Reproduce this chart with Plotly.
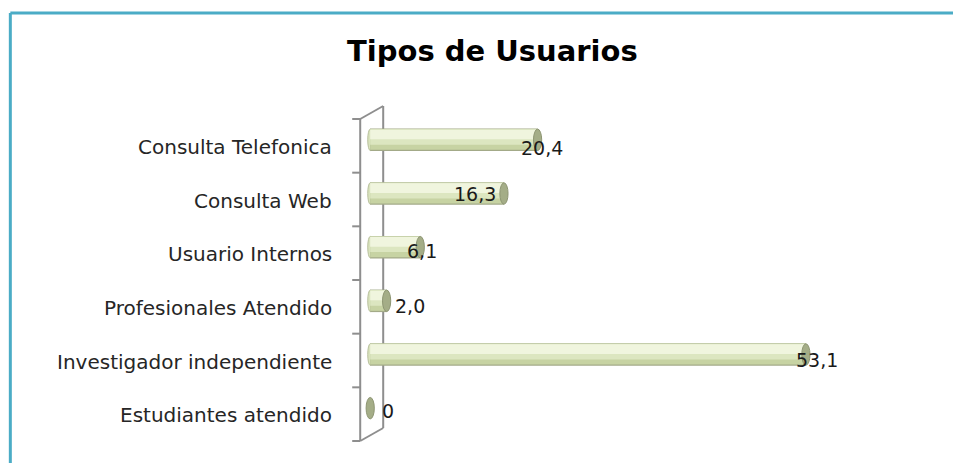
import plotly.graph_objects as go

# ---- data ----
categories = ["Consulta Telefonica", "Consulta Web", "Usuario Internos",
              "Profesionales Atendido", "Investigador independiente", "Estudiantes atendido"]
values = [20.4, 16.3, 6.1, 2.0, 53.1, 0]
value_labels = ["20,4", "16,3", "6,1", "2,0", "53,1", "0"]
title_text = "Tipos de Usuarios"

# ---- layout geometry (pixels, as measured on the target screenshot) ----
W, H = 961, 463
OFF = 8  # page body margin of the browser
ZERO_X, PLOT_R, PLOT_T, PLOT_B = 370, 938, 113, 435
XMIN, XMAX = -1.0, 69.2
SCALE = (PLOT_R - ZERO_X) / XMAX
PLOT_L = ZERO_X + XMIN * SCALE
ML = PLOT_L - OFF
MT = PLOT_T - OFF
MR = W - (PLOT_R - OFF)
MB = H - (PLOT_B - OFF)
PW, PH = W - ML - MR, H - MT - MB

def px(xp):
    return (xp - OFF - ML) / PW

def py(yp):
    return (H - MB - (yp - OFF)) / PH

fig = go.Figure()

# cylinder-like bars made of overlaid layers
layers = [
    dict(width=0.42, offset=-0.21, color="#A3AA88"),
    dict(width=0.385, offset=-0.198, color="#C7D3A3"),
    dict(width=0.29, offset=-0.198, color="#DCE6C0"),
    dict(width=0.18, offset=-0.19, color="#F0F5DE"),
]
for L in layers:
    fig.add_trace(go.Bar(
        y=categories, x=values, orientation="h",
        width=L["width"], offset=L["offset"],
        marker=dict(color=L["color"], line=dict(width=0)),
        hoverinfo="skip", showlegend=False,
    ))

shapes = []
# 3D back wall (decoration)
wall = dict(type="line", xref="paper", yref="paper", layer="below",
            line=dict(color="#8E8E8E", width=2))
shapes.append(dict(wall, x0=px(360), x1=px(360), y0=py(119), y1=py(441)))
shapes.append(dict(wall, x0=px(383), x1=px(383), y0=py(106), y1=py(428)))
shapes.append(dict(wall, x0=px(360), x1=px(383), y0=py(119), y1=py(106)))
shapes.append(dict(wall, x0=px(360), x1=px(383), y0=py(441), y1=py(428)))
n = len(categories)
for k in range(n + 1):
    yp = 119 + k * (441 - 119) / n
    shapes.append(dict(wall, x0=px(352), x1=px(360), y0=py(yp), y1=py(yp)))

# rounded start and end caps of the cylinders
cap_half_x = 0.5
for i, v in enumerate(values):
    if v > 0:
        shapes.append(dict(type="circle", xref="x", yref="y",
                           x0=-0.3, x1=0.3, y0=i - 0.2, y1=i + 0.2,
                           fillcolor="#D9E3BC", line=dict(color="#B8C09C", width=1),
                           layer="below"))
    shapes.append(dict(type="circle", xref="x", yref="y",
                       x0=v - cap_half_x, x1=v + cap_half_x,
                       y0=i - 0.2, y1=i + 0.2,
                       fillcolor="#A4AD87", line=dict(color="#8D9572", width=1),
                       layer="above"))

# border of the chart area
border = dict(type="line", xref="paper", yref="paper", line=dict(color="#4BACC6", width=3))
shapes.append(dict(border, x0=px(10), x1=px(975), y0=py(13), y1=py(13)))
shapes.append(dict(border, x0=px(10), x1=px(10), y0=py(13), y1=py(480)))

annotations = []
# category labels (shifted slightly down like the 3D original)
for i, c in enumerate(categories):
    annotations.append(dict(x=px(334), xref="paper", y=i, yref="y", text=c,
                            showarrow=False, xanchor="right", yanchor="middle",
                            yshift=-7,
                            font=dict(family="DejaVu Sans", size=20, color="#262626")))

# value labels
label_shift_x = [4, -29, 2, 23, 11, 18]
label_shift_y = [-8, 0, -4, -5, -5, -3]
for i, (v, t) in enumerate(zip(values, value_labels)):
    annotations.append(dict(x=v, xref="x", y=i, yref="y", text=t,
                            showarrow=False, xanchor="center", yanchor="middle",
                            xshift=label_shift_x[i], yshift=label_shift_y[i],
                            font=dict(family="DejaVu Sans", size=19, color="#1A1A1A")))

# title
annotations.append(dict(x=px(492), xref="paper", y=py(51), yref="paper", text="<b>" + title_text + "</b>",
                        showarrow=False, xanchor="center", yanchor="middle",
                        font=dict(family="DejaVu Sans", size=29, color="#000000")))

fig.update_layout(
    width=W, height=H,
    margin=dict(l=ML, r=MR, t=MT, b=MB),
    paper_bgcolor="white", plot_bgcolor="white",
    barmode="overlay",
    xaxis=dict(range=[XMIN, XMAX], visible=False, fixedrange=True),
    yaxis=dict(type="category", categoryorder="array", categoryarray=categories,
               range=[n - 0.5, -0.5], showticklabels=False, showgrid=False,
               zeroline=False, showline=False, ticks=""),
    shapes=shapes, annotations=annotations,
    showlegend=False,
)

fig.write_html("out.html")
